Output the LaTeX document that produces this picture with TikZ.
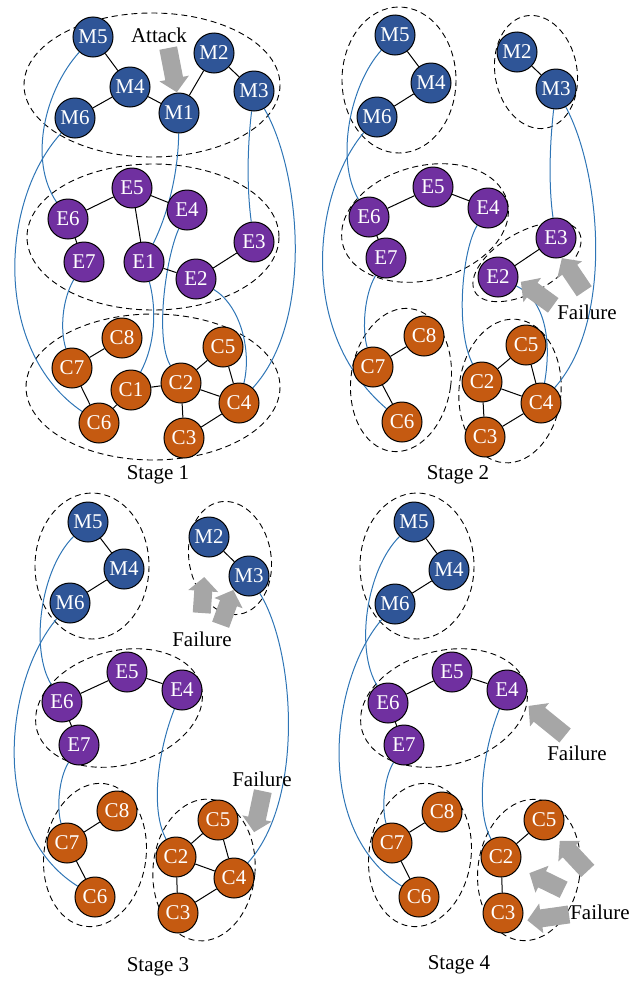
\documentclass[tikz,border=0pt]{standalone}
\usepackage{fontspec}
\setmainfont{Liberation Serif}
\pgfdeclarelayer{bg}
\pgfsetlayers{bg,main}
\definecolor{mblue}{HTML}{2F5597}
\definecolor{epurple}{HTML}{7030A0}
\definecolor{corange}{HTML}{C55A11}
\definecolor{linkblue}{HTML}{2E75B6}
\definecolor{arrowgray}{HTML}{A6A6A6}
\begin{document}
\begin{tikzpicture}[x=1pt,y=-1pt,
  nd/.style={circle,draw=black,line width=1pt,minimum size=40pt,inner sep=0pt,text=white,font=\fontsize{21}{21}\selectfont},
  mn/.style={nd,fill=mblue},
  en/.style={nd,fill=epurple},
  cn/.style={nd,fill=corange},
  grp/.style={draw=black,dash pattern=on 6pt off 4pt,line width=0.9pt},
  lnk/.style={draw=linkblue,line width=1pt},
  edg/.style={draw=black,line width=1pt},
  lbl/.style={font=\fontsize{21}{21}\selectfont,inner sep=0pt},
  garrow/.pic={\fill[arrowgray] (-4,-9) -- ({#1-14},-9) -- ({#1-14},-15) -- (#1,0) -- ({#1-14},15) -- ({#1-14},9) -- (-4,9) -- cycle;}
]
\useasboundingbox (0,0) rectangle (630,983);

% ================= Stage 1 =================
\node[mn] (aM5) at (93,37) {M5};
\node[mn] (aM4) at (130,87) {M4};
\node[mn] (aM1) at (179,113) {M1};
\node[mn] (aM2) at (214,53) {M2};
\node[mn] (aM3) at (254,91) {M3};
\node[mn] (aM6) at (75,118) {M6};
\node[en] (aE5) at (132,188) {E5};
\node[en] (aE4) at (187,210) {E4};
\node[en] (aE6) at (68,219) {E6};
\node[en] (aE3) at (254,242) {E3};
\node[en] (aE7) at (84,262) {E7};
\node[en] (aE1) at (144,262) {E1};
\node[en] (aE2) at (196,279) {E2};
\node[cn] (aC8) at (122,338) {C8};
\node[cn] (aC7) at (72,368) {C7};
\node[cn] (aC5) at (223,347) {C5};
\node[cn] (aC1) at (131,390) {C1};
\node[cn] (aC2) at (181,383) {C2};
\node[cn] (aC4) at (239,403) {C4};
\node[cn] (aC6) at (99,423) {C6};
\node[cn] (aC3) at (184,438) {C3};
\node[lbl] (aT) at (158,475) {Stage 1};
\node[lbl] (aAtt) at (159,35) {Attack};
\pic[rotate=-79] at (169,52) {garrow=41};

\begin{pgfonlayer}{bg}
\draw[grp] (152,85) ellipse [x radius=128, y radius=72];
\draw[grp] (153,237) ellipse [x radius=126, y radius=73];
\draw[grp] (153,387) ellipse [x radius=127, y radius=73];
\draw[lnk] (aM5) .. controls (45,90) and (28,160) .. (aE6);
\draw[lnk] (aM6) .. controls (0,200) and (-8,350) .. (aC6);
\draw[lnk] (aM1) .. controls (178,180) and (165,220) .. (aE1);
\draw[lnk] (aE1) .. controls (157,310) and (155,345) .. (aC1);
\draw[lnk] (aE4) .. controls (165,260) and (155,340) .. (aC2);
\draw[lnk] (aM3) .. controls (247,150) and (247,190) .. (aE3);
\draw[lnk] (aM3) .. controls (300,170) and (315,320) .. (aC4);
\draw[lnk] (aE2) .. controls (240,305) and (252,350) .. (aC4);
\draw[lnk] (aE7) .. controls (62,300) and (60,330) .. (aC7);
\draw[edg] (aM5) -- (aM4) (aM4) -- (aM6) (aM4) -- (aM1) (aM1) -- (aM2) (aM2) -- (aM3);
\draw[edg] (aE5) -- (aE6) (aE5) -- (aE4) (aE5) -- (aE1) (aE6) -- (aE7) (aE1) -- (aE2) (aE2) -- (aE3);
\draw[edg] (aC8) -- (aC7) (aC7) -- (aC6) (aC6) -- (aC1) (aC1) -- (aC2) (aC2) -- (aC5) (aC5) -- (aC4) (aC2) -- (aC4) (aC2) -- (aC3) (aC3) -- (aC4);
\end{pgfonlayer}

% ================= Stage 2 =================
\node[mn] (bM5) at (395,35) {M5};
\node[mn] (bM4) at (431,83) {M4};
\node[mn] (bM6) at (377,117) {M6};
\node[mn] (bM2) at (517,52) {M2};
\node[mn] (bM3) at (556,89) {M3};
\node[en] (bE5) at (433,187) {E5};
\node[en] (bE4) at (488,208) {E4};
\node[en] (bE6) at (369,217) {E6};
\node[en] (bE3) at (556,238) {E3};
\node[en] (bE7) at (386,258) {E7};
\node[en] (bE2) at (498,277) {E2};
\node[cn] (bC8) at (424,336) {C8};
\node[cn] (bC7) at (373,367) {C7};
\node[cn] (bC5) at (526,345) {C5};
\node[cn] (bC2) at (482,382) {C2};
\node[cn] (bC4) at (541,403) {C4};
\node[cn] (bC6) at (402,422) {C6};
\node[cn] (bC3) at (485,437) {C3};
\node[lbl] (bT) at (458,475) {Stage 2};
\node[lbl] (bF) at (587,312) {Failure};
\pic[rotate=144] at (550,303) {garrow=36};
\pic[rotate=124] at (582,288) {garrow=36};

\begin{pgfonlayer}{bg}
\draw[grp] (399,80) ellipse [x radius=57, y radius=73];
\draw[grp, rotate around={10:(536,72)}] (536,72) ellipse [x radius=41, y radius=57];
\draw[grp, rotate around={15:(425,223)}] (425,223) ellipse [x radius=85, y radius=57];
\draw[grp, rotate around={30:(527,262)}] (527,262) ellipse [x radius=60, y radius=30];
\draw[grp, rotate around={-8:(401,380)}] (401,380) ellipse [x radius=50, y radius=72];
\draw[grp, rotate around={-5:(510,391)}] (510,391) ellipse [x radius=51, y radius=72];
\draw[lnk] (bM5) .. controls (350,85) and (335,160) .. (bE6);
\draw[lnk] (bM6) .. controls (315,190) and (295,330) .. (bC6);
\draw[lnk] (bM3) .. controls (549,150) and (549,190) .. (bE3);
\draw[lnk] (bM3) .. controls (600,170) and (615,320) .. (bC4);
\draw[lnk] (bE4) .. controls (462,250) and (455,330) .. (bC2);
\draw[lnk] (bE2) .. controls (545,300) and (552,340) .. (bC4);
\draw[lnk] (bE7) .. controls (364,295) and (362,330) .. (bC7);
\draw[edg] (bM5) -- (bM4) (bM4) -- (bM6) (bM2) -- (bM3);
\draw[edg] (bE5) -- (bE6) (bE5) -- (bE4) (bE6) -- (bE7) (bE2) -- (bE3);
\draw[edg] (bC8) -- (bC7) (bC7) -- (bC6) (bC2) -- (bC5) (bC5) -- (bC4) (bC2) -- (bC4) (bC2) -- (bC3) (bC3) -- (bC4);
\end{pgfonlayer}

% ================= Stage 3 =================
\node[mn] (cM5) at (88,522) {M5};
\node[mn] (cM4) at (124,569) {M4};
\node[mn] (cM6) at (70,603) {M6};
\node[mn] (cM2) at (209,537) {M2};
\node[mn] (cM3) at (249,576) {M3};
\node[en] (cE5) at (127,672) {E5};
\node[en] (cE4) at (182,690) {E4};
\node[en] (cE6) at (62,702) {E6};
\node[en] (cE7) at (79,745) {E7};
\node[cn] (cC8) at (117,811) {C8};
\node[cn] (cC7) at (67,843) {C7};
\node[cn] (cC5) at (218,820) {C5};
\node[cn] (cC2) at (176,857) {C2};
\node[cn] (cC4) at (234,878) {C4};
\node[cn] (cC6) at (95,897) {C6};
\node[cn] (cC3) at (178,913) {C3};
\node[lbl] (cT) at (158,967) {Stage 3};
\node[lbl] (cF1) at (202,639) {Failure};
\node[lbl] (cF2) at (262,779) {Failure};
\pic[rotate=86] at (202,609) {garrow=32};
\pic[rotate=70] at (222,621) {garrow=33};
\pic[rotate=-102] at (262,795) {garrow=38};

\begin{pgfonlayer}{bg}
\draw[grp] (92,566) ellipse [x radius=57, y radius=73];
\draw[grp, rotate around={10:(230,558)}] (230,558) ellipse [x radius=41, y radius=57];
\draw[grp, rotate around={15:(119,708)}] (119,708) ellipse [x radius=85, y radius=57];
\draw[grp, rotate around={-8:(95,855)}] (95,855) ellipse [x radius=51, y radius=72];
\draw[grp, rotate around={-5:(204,870)}] (204,870) ellipse [x radius=51, y radius=71];
\draw[lnk] (cM5) .. controls (40,570) and (30,650) .. (cE6);
\draw[lnk] (cM6) .. controls (5,680) and (-12,830) .. (cC6);
\draw[lnk] (cE4) .. controls (158,750) and (150,810) .. (cC2);
\draw[lnk] (cM3) .. controls (295,650) and (305,800) .. (cC4);
\draw[lnk] (cE7) .. controls (58,780) and (57,810) .. (cC7);
\draw[edg] (cM5) -- (cM4) (cM4) -- (cM6) (cM2) -- (cM3);
\draw[edg] (cE5) -- (cE6) (cE5) -- (cE4) (cE6) -- (cE7);
\draw[edg] (cC8) -- (cC7) (cC7) -- (cC6) (cC2) -- (cC5) (cC5) -- (cC4) (cC2) -- (cC4) (cC2) -- (cC3) (cC3) -- (cC4);
\end{pgfonlayer}

% ================= Stage 4 =================
\node[mn] (dM5) at (414,522) {M5};
\node[mn] (dM4) at (449,570) {M4};
\node[mn] (dM6) at (395,604) {M6};
\node[en] (dE5) at (452,672) {E5};
\node[en] (dE4) at (507,690) {E4};
\node[en] (dE6) at (388,703) {E6};
\node[en] (dE7) at (404,745) {E7};
\node[cn] (dC8) at (442,812) {C8};
\node[cn] (dC7) at (392,843) {C7};
\node[cn] (dC5) at (544,820) {C5};
\node[cn] (dC2) at (501,857) {C2};
\node[cn] (dC6) at (419,897) {C6};
\node[cn] (dC3) at (503,913) {C3};
\node[lbl] (dT) at (459,965) {Stage 4};
\node[lbl] (dF1) at (577,753) {Failure};
\node[lbl] (dF2) at (600,912) {Failure};
\pic[rotate=141] at (562,733) {garrow=43};
\pic[rotate=133] at (585,868) {garrow=37};
\pic[rotate=154] at (560,888) {garrow=34};
\pic[rotate=-172] at (565,915) {garrow=38};

\begin{pgfonlayer}{bg}
\draw[grp] (417,566) ellipse [x radius=57, y radius=73];
\draw[grp, rotate around={15:(444,708)}] (444,708) ellipse [x radius=85, y radius=57];
\draw[grp, rotate around={-8:(420,855)}] (420,855) ellipse [x radius=51, y radius=72];
\draw[grp, rotate around={-8:(529,870)}] (529,870) ellipse [x radius=51, y radius=71];
\draw[lnk] (dM5) .. controls (366,570) and (355,650) .. (dE6);
\draw[lnk] (dM6) .. controls (330,680) and (313,830) .. (dC6);
\draw[lnk] (dE4) .. controls (483,750) and (475,810) .. (dC2);
\draw[lnk] (dE7) .. controls (383,780) and (382,810) .. (dC7);
\draw[edg] (dM5) -- (dM4) (dM4) -- (dM6);
\draw[edg] (dE5) -- (dE6) (dE5) -- (dE4) (dE6) -- (dE7);
\draw[edg] (dC8) -- (dC7) (dC7) -- (dC6) (dC2) -- (dC5) (dC2) -- (dC3);
\end{pgfonlayer}
\end{tikzpicture}
\end{document}
